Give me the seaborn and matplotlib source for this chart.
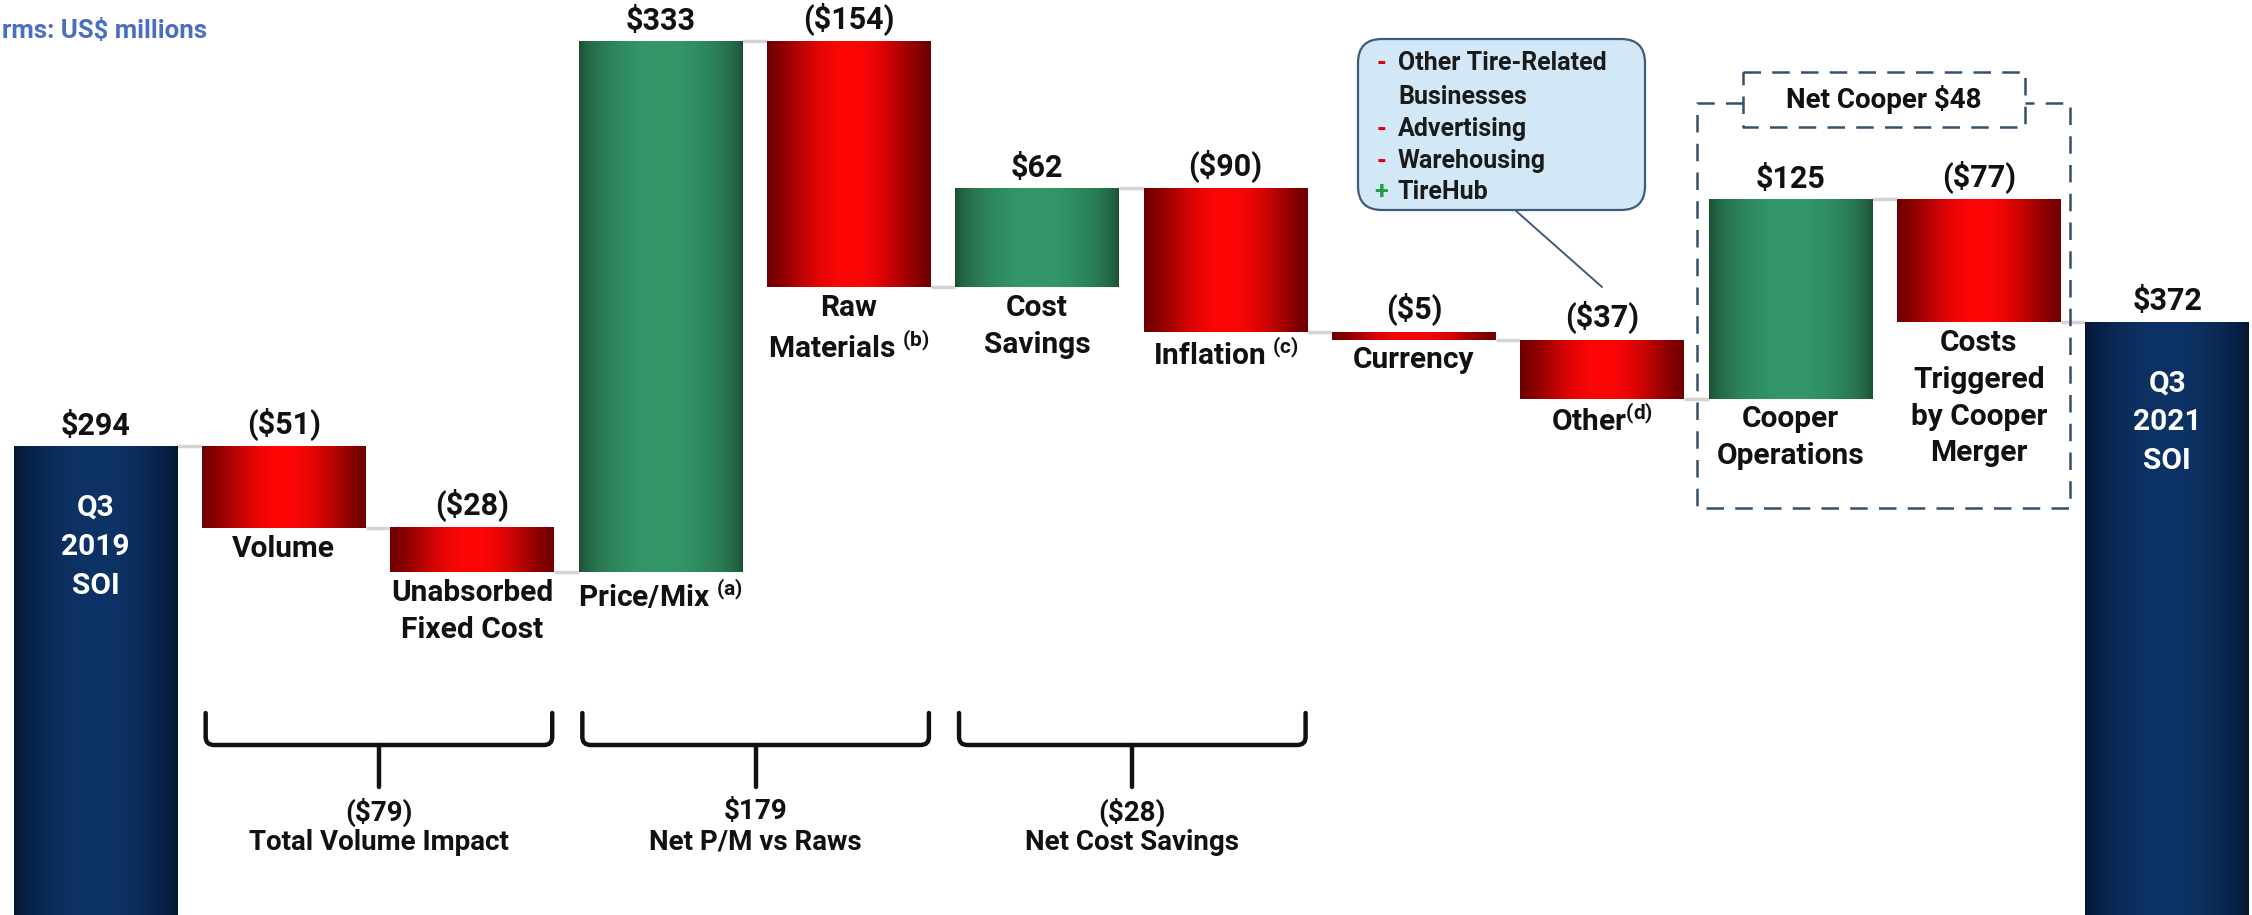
import numpy as np
import matplotlib
matplotlib.use("Agg")
import matplotlib.pyplot as plt
import seaborn as sns
from matplotlib.colors import to_rgb
from matplotlib.transforms import Affine2D, blended_transform_factory
from matplotlib.patches import FancyBboxPatch
from matplotlib.path import Path
from matplotlib.patches import PathPatch
from matplotlib.lines import Line2D

# ---------------- data ----------------
categories = ["Q3 2019 SOI", "Volume", "Unabsorbed Fixed Cost", "Price/Mix", "Raw Materials",
              "Cost Savings", "Inflation", "Currency", "Other", "Cooper Operations",
              "Costs Triggered by Cooper Merger", "Q3 2021 SOI"]
values = [294, -51, -28, 333, -154, 62, -90, -5, -37, 125, -77, 372]
kinds = ["total", "delta", "delta", "delta", "delta", "delta", "delta", "delta", "delta",
         "delta", "delta", "total"]
bar_labels = ["Q3\n2019\nSOI", "Volume", "Unabsorbed\nFixed Cost", r"Price/Mix $^{\mathbf{(a)}}$",
              "Raw\n" + r"Materials $^{\mathbf{(b)}}$", "Cost\nSavings", r"Inflation $^{\mathbf{(c)}}$",
              "Currency", r"Other$^{\mathbf{(d)}}$", "Cooper\nOperations",
              "Costs\nTriggered\nby Cooper\nMerger", "Q3\n2021\nSOI"]
groups = [(1, 2, "Total Volume Impact"), (3, 4, "Net P/M vs Raws"), (5, 6, "Net Cost Savings")]
callout_signs = ["-", "", "-", "-", "+"]
callout_lines = ["Other Tire-Related", "Businesses", "Advertising", "Warehousing", "TireHub"]
net_cooper_label = "Net Cooper $48"
units_label = "rms: US$ millions"

# ---------------- style ----------------
sns.set_theme(style="white")
plt.rcParams["font.family"] = ["Roboto", "DejaVu Sans"]
plt.rcParams["mathtext.fontset"] = "custom"
plt.rcParams["mathtext.rm"] = "Roboto"
plt.rcParams["mathtext.bf"] = "Roboto:bold"
plt.rcParams["mathtext.it"] = "Roboto:italic"

W, H = 2252, 915
fig = plt.figure(figsize=(W / 100, H / 100), dpi=100)
ax = fig.add_axes([0, 0, 1, 1])
pix = Affine2D().scale(1 / W, -1 / H).translate(0, 1) + fig.transFigure

# waterfall geometry
bottoms, heights, levels = [], [], []
run = 0
for v, k in zip(values, kinds):
    if k == "total":
        bottoms.append(0); heights.append(v); run = v
    else:
        new = run + v
        bottoms.append(min(run, new)); heights.append(abs(v)); run = new
    levels.append(run)
tops = [b + h for b, h in zip(bottoms, heights)]

BW = 0.87
sns.barplot(x=categories, y=tops, order=categories, width=BW, color="#888888",
            errorbar=None, ax=ax, linewidth=0)
patches = list(ax.patches)

t = np.linspace(0, 1, 256)
def grad(edge, center, p):
    e = np.array(to_rgb(edge)); c = np.array(to_rgb(center))
    f = np.sin(np.pi * t) ** p
    return (e[None, :] * (1 - f[:, None]) + c[None, :] * f[:, None])[None, :, :]

g_red = grad("#700000", "#ff0606", 1.3)
g_green = grad("#1a4a31", "#33976a", 0.55)
g_navy = grad("#051530", "#0d3366", 0.7)

for i, p in enumerate(patches):
    p.set_y(bottoms[i]); p.set_height(heights[i])
    p.set_visible(False)
    x0 = p.get_x(); x1 = x0 + p.get_width()
    if kinds[i] == "total":
        g = g_navy
    elif values[i] < 0:
        g = g_red
    else:
        g = g_green
    ax.imshow(g, extent=[x0, x1, bottoms[i], tops[i]], aspect="auto",
              interpolation="bilinear", zorder=2)

# connectors
for i in range(len(values) - 1):
    ax.plot([i + BW / 2, i + 1 - BW / 2], [levels[i], levels[i]], color="#d4d4d4",
            lw=2.5, zorder=1, solid_capstyle="butt")

def money(v):
    return f"${v}" if v >= 0 else f"(${-v})"

FS = 21.5
for i, v in enumerate(values):
    ax.annotate(money(v), xy=(i, tops[i]), xytext=(0, 4), textcoords="offset points",
                ha="center", va="bottom", fontsize=22, fontweight="bold", color="#111111")
    if kinds[i] == "total":
        ax.annotate(bar_labels[i], xy=(i, tops[i]), xytext=(0, -34), textcoords="offset points",
                    ha="center", va="top", fontsize=FS, fontweight="bold", color="white",
                    multialignment="center", linespacing=1.5, zorder=5)
    else:
        ax.annotate(bar_labels[i], xy=(i, bottoms[i]), xytext=(0, -5), textcoords="offset points",
                    ha="center", va="top", fontsize=FS, fontweight="bold", color="#111111",
                    multialignment="center", linespacing=1.4)

ax.set_xlim(-0.507, 11.45)
ax.set_ylim(0, 574)
ax.axis("off")

# braces
bt = blended_transform_factory(ax.transData, pix)
for a, b, name in groups:
    x0 = a - BW / 2 + 0.02
    x1 = b + BW / 2 - 0.01
    xm = (x0 + x1) / 2
    r = 0.045
    verts = [(x0, 713), (x0, 737), (x0, 745), (x0 + r, 745), (x1 - r, 745), (x1, 745),
             (x1, 737), (x1, 713)]
    codes = [Path.MOVETO, Path.LINETO, Path.CURVE3, Path.CURVE3, Path.LINETO, Path.CURVE3,
             Path.CURVE3, Path.LINETO]
    ax.add_patch(PathPatch(Path(verts, codes), transform=bt, fill=False, lw=3.2,
                           edgecolor="#111111", clip_on=False, capstyle="round"))
    ax.add_line(Line2D([xm, xm], [745, 787], transform=bt, lw=3.2, color="#111111",
                       clip_on=False))
    total = sum(values[a:b + 1])
    ax.text(xm, 812, money(total), transform=bt, ha="center", va="center", fontsize=20,
            fontweight="bold", color="#111111")
    ax.text(xm, 842, name, transform=bt, ha="center", va="center", fontsize=20,
            fontweight="bold", color="#111111")

# callout
box = FancyBboxPatch((1358, 39), 287, 171, boxstyle="round,pad=0,rounding_size=24",
                     transform=pix, facecolor="#d3e8f6", edgecolor="#3d5b7c", lw=1.6,
                     clip_on=False, zorder=6)
ax.add_patch(box)
ax.add_line(Line2D([1515, 1602], [210, 287], transform=pix, color="#3d5b7c", lw=1.4,
                   zorder=6))
ys = [63, 97, 129, 161, 192]
for s, txt, y in zip(callout_signs, callout_lines, ys):
    if s:
        ax.text(1381, y, s, transform=pix, ha="center", va="center", fontsize=18,
                fontweight="bold", color="#e00000" if s == "-" else "#22a040", zorder=7)
    ax.text(1398, y, txt, transform=pix, ha="left", va="center", fontsize=18,
            fontweight="bold", color="#1a1a1a", zorder=7)

# dashed Net Cooper boxes
dc = "#34506f"
dash = dict(color=dc, lw=1.8, ls=(0, (7, 4.5)), transform=pix, clip_on=False, zorder=6)
ax.add_line(Line2D([1743, 1697, 1697, 2070, 2070, 2025], [103, 103, 508, 508, 103, 103], **dash))
ax.add_line(Line2D([1743, 2025, 2025, 1743, 1743], [72, 72, 127, 127, 72], **dash))
ax.text(1884, 100, net_cooper_label, transform=pix, ha="center", va="center", fontsize=20,
        fontweight="bold", color="#111111")

# units header
ax.text(2, 31, units_label, transform=pix, ha="left", va="center", fontsize=18.5,
        fontweight="bold", color="#4a6fc0")

fig.savefig("out.png", dpi=100)
